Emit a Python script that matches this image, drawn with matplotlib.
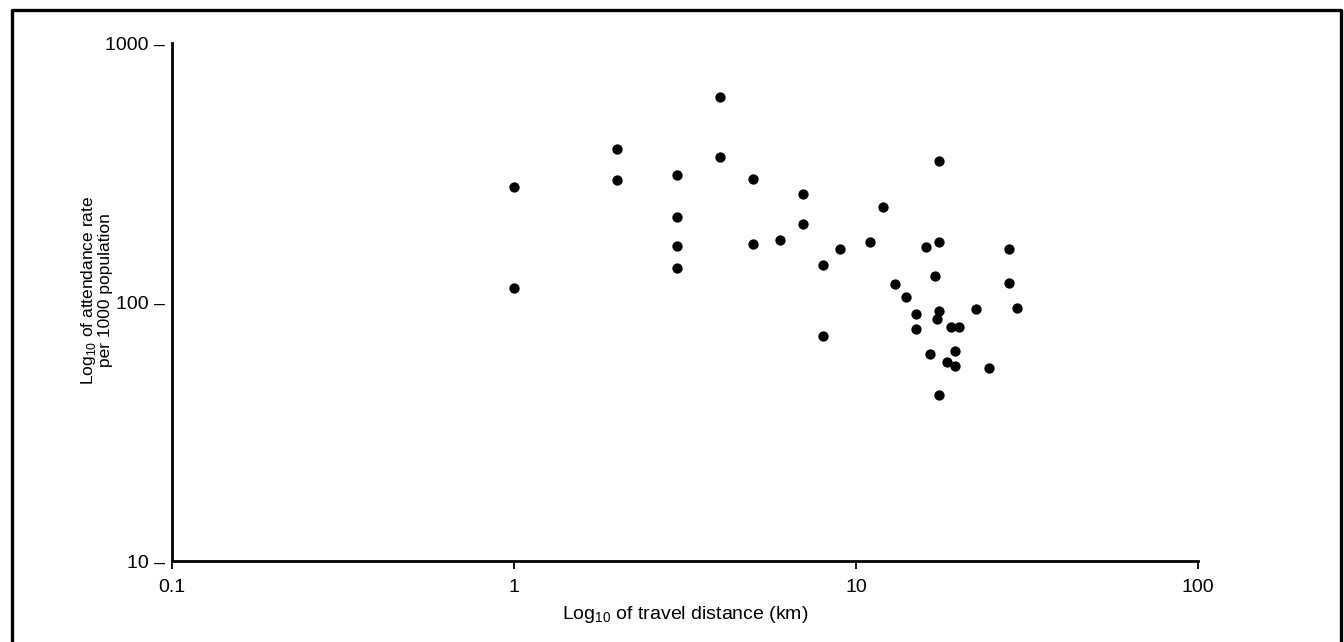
import matplotlib
matplotlib.use('Agg')
from matplotlib import pyplot as plt
from matplotlib.lines import Line2D
from matplotlib.ticker import FixedLocator, NullLocator

plt.rcParams['font.family'] = ['Liberation Sans', 'DejaVu Sans']
plt.rcParams['mathtext.fontset'] = 'custom'
plt.rcParams['mathtext.rm'] = 'Liberation Sans'

# travel distance (km) and attendance rate per 1000 population
distance = [1, 1, 2, 2, 3, 3, 3, 3, 4, 4, 5, 5, 6, 7, 7, 8, 8, 9, 11, 12, 13,
            14, 15, 15, 16, 17, 16.5, 17.5, 17.5, 17.5, 17.3, 17.5, 18.5, 19,
            20, 19.5, 19.5, 22.5, 24.5, 28, 28, 29.5]
attendance = [277, 113, 390, 295, 309, 213, 165, 135, 621, 364, 298, 167, 173,
              261, 200, 139, 74, 160, 171, 233, 117, 105, 90, 79, 163, 126, 63,
              350, 171, 92.5, 86, 43.6, 58.8, 80, 80, 65, 56.5, 94, 55.7, 160,
              118, 95]

x_ticks = [0.1, 1, 10, 100]
x_tick_labels = ['0.1', '1', '10', '100']
y_ticks = [10, 100, 1000]
y_tick_labels = ['10 \u2013', '100 \u2013', '1000 \u2013']

fig = plt.figure(figsize=(13.44, 6.42), dpi=100)
ax = fig.add_axes([0.128, 0.126, 0.7634, 0.807])

ax.scatter(distance, attendance, s=55, color='black', zorder=3, linewidths=0)

ax.set_xscale('log')
ax.set_yscale('log')
ax.set_xlim(0.1, 100)
ax.set_ylim(10, 1000)

ax.xaxis.set_major_locator(FixedLocator(x_ticks))
ax.set_xticklabels(x_tick_labels)
ax.yaxis.set_major_locator(FixedLocator(y_ticks))
ax.set_yticklabels(y_tick_labels)
ax.xaxis.set_minor_locator(NullLocator())
ax.yaxis.set_minor_locator(NullLocator())

for s in ['top', 'right']:
    ax.spines[s].set_visible(False)
for s in ['left', 'bottom']:
    ax.spines[s].set_linewidth(2)

ax.tick_params(axis='x', direction='out', length=6, width=1.3, pad=7, labelsize=14)
# the dash drawn after each y label stands in for the tick mark
ax.tick_params(axis='y', length=0, pad=5, labelsize=14)

ax.set_xlabel('Log$_{10}$ of travel distance (km)', fontsize=14, labelpad=6)
ax.set_ylabel('Log$_{10}$ of attendance rate\nper 1000 population', fontsize=12.5,
              multialignment='center', linespacing=0.95)
ax.yaxis.set_label_coords(-0.058, 0.523)

# frame round the figure, open at the bottom
fx0, fx1, fy = 12 / 1344, 1341 / 1344, 1 - 10 / 642
fig.add_artist(Line2D([fx0, fx0, fx1, fx1], [0, fy, fy, 0], color='black',
                      linewidth=2.4, transform=fig.transFigure))

fig.savefig('out.png', dpi=100)
